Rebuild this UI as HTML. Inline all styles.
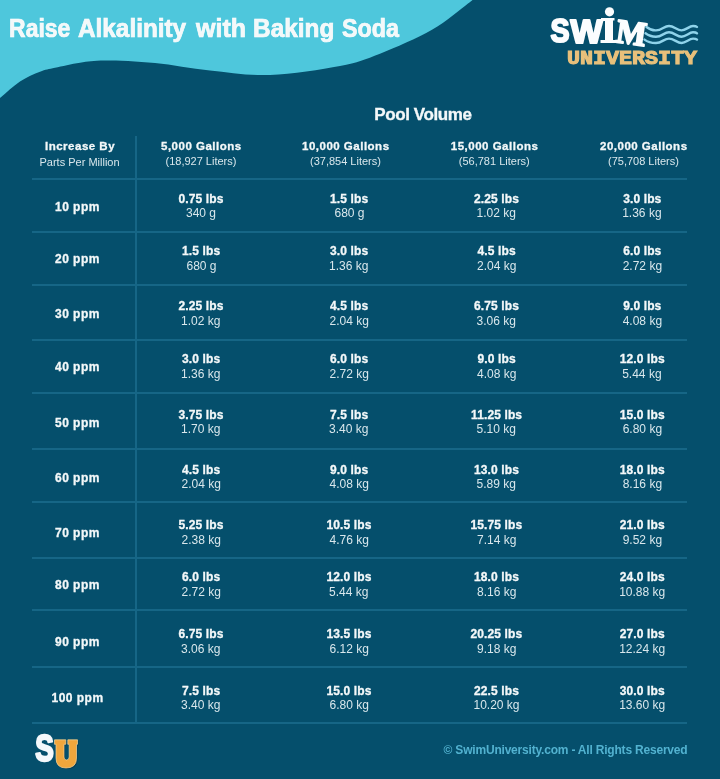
<!DOCTYPE html>
<html><head><meta charset="utf-8">
<style>
html,body{margin:0;padding:0;}
body{width:720px;height:779px;overflow:hidden;position:relative;background:#054f6c;font-family:"Liberation Sans",sans-serif;}
.a{position:absolute;white-space:nowrap;line-height:1;}
.hl{position:absolute;left:32px;width:655px;height:2px;background:#166686;}
.vl{position:absolute;left:135px;top:136px;width:2px;height:588px;background:#166686;}

.title{font-weight:bold;font-size:25px;letter-spacing:0px;color:#f4f8f9;-webkit-text-stroke:0.7px #fbfdfd;}
.pool{font-weight:bold;font-size:17px;letter-spacing:-0.4px;color:#f4f8f9;-webkit-text-stroke:0.35px #f4f8f9;}
.bh{font-weight:bold;font-size:11.5px;letter-spacing:0.5px;color:#f4f8f9;-webkit-text-stroke:0.3px #f4f8f9;}
.sh{font-weight:normal;font-size:11px;letter-spacing:0px;color:#d9e7ec;}
.bd{font-weight:bold;font-size:12px;letter-spacing:0.12px;color:#f4f8f9;-webkit-text-stroke:0.3px #f4f8f9;}
.sd{font-weight:normal;font-size:12px;letter-spacing:0px;color:#d9e7ec;}
.ppm{font-weight:bold;font-size:12px;letter-spacing:0.48px;color:#f4f8f9;-webkit-text-stroke:0.3px #f4f8f9;}
.foot{font-weight:bold;font-size:12px;letter-spacing:-0.2px;color:#52b2d0;}
#w{position:absolute;left:0;top:0;width:720px;height:779px;filter:blur(0.35px);}
</style></head><body><div id="w">
<svg class="a" style="left:0;top:0" width="720" height="130" viewBox="0 0 720 130">
<path d="M0 -5 L476 -4 C473.8 -1.4 475.3 -2.0 468 3.6 C460.7 9.2 446.7 21.5 432 29.8 C417.3 38.1 395.3 47.7 380 53.7 C364.7 59.7 358.3 62.5 340 66 C321.7 69.5 291.7 74.2 270 75 C248.3 75.8 229.2 72.5 210 70.5 C190.8 68.5 172.5 64.7 155 63 C137.5 61.3 117.5 60.5 105 60.5 C92.5 60.5 88.3 61.5 80 62.7 C71.7 63.9 61.7 66.3 55 67.8 C48.3 69.3 45.8 69.5 40 71.8 C34.2 74.1 26.7 77.1 20 81.5 C13.3 85.9 6.7 92.4 0 98 L0 120 Z" fill="#4ec7dc"/>
</svg>
<div class="hl" style="top:178px"></div>
<div class="hl" style="top:231px"></div>
<div class="hl" style="top:284px"></div>
<div class="hl" style="top:339px"></div>
<div class="hl" style="top:392px"></div>
<div class="hl" style="top:448px"></div>
<div class="hl" style="top:501px"></div>
<div class="hl" style="top:557px"></div>
<div class="hl" style="top:609px"></div>
<div class="hl" style="top:666px"></div>
<div class="hl" style="top:722px"></div>
<div class="vl"></div>
<div class="a title" style="left:8.9px;top:15.5px;transform:scaleX(0.917);transform-origin:1px 0">Raise</div>
<div class="a title" style="left:77.6px;top:15.5px;transform:scaleX(0.973);transform-origin:0px 0">Alkalinity</div>
<div class="a title" style="left:196.0px;top:15.5px;transform:scaleX(1.000);transform-origin:-1px 0">with</div>
<div class="a title" style="left:253.4px;top:15.5px;transform:scaleX(0.975);transform-origin:1px 0">Baking</div>
<div class="a title" style="left:342.2px;top:15.5px;transform:scaleX(0.932);transform-origin:0px 0">Soda</div>
<div class="a pool" style="left:374.3px;top:106.0px">Pool Volume</div>
<div class="a bh" style="left:45.0px;top:141.0px">Increase By</div>
<div class="a sh" style="left:39.5px;top:156.5px">Parts Per Million</div>
<div class="a bh" style="left:161.0px;top:141.0px">5,000 Gallons</div>
<div class="a sh" style="left:165.5px;top:155.9px">(18,927 Liters)</div>
<div class="a bh" style="left:302.0px;top:141.0px">10,000 Gallons</div>
<div class="a sh" style="left:310.0px;top:155.9px">(37,854 Liters)</div>
<div class="a bh" style="left:450.8px;top:141.0px">15,000 Gallons</div>
<div class="a sh" style="left:458.8px;top:155.9px">(56,781 Liters)</div>
<div class="a bh" style="left:600.0px;top:141.0px">20,000 Gallons</div>
<div class="a sh" style="left:608.0px;top:155.9px">(75,708 Liters)</div>
<div class="a ppm" style="left:55.0px;top:200.6px">10 ppm</div>
<div class="a bd" style="left:178.5px;top:192.5px">0.75 lbs</div>
<div class="a sd" style="left:186.0px;top:207.2px">340 g</div>
<div class="a bd" style="left:330.0px;top:192.5px">1.5 lbs</div>
<div class="a sd" style="left:334.5px;top:207.2px">680 g</div>
<div class="a bd" style="left:474.0px;top:192.5px">2.25 lbs</div>
<div class="a sd" style="left:476.5px;top:207.2px">1.02 kg</div>
<div class="a bd" style="left:623.2px;top:192.5px">3.0 lbs</div>
<div class="a sd" style="left:622.2px;top:207.2px">1.36 kg</div>
<div class="a ppm" style="left:55.0px;top:252.9px">20 ppm</div>
<div class="a bd" style="left:182.0px;top:244.8px">1.5 lbs</div>
<div class="a sd" style="left:186.5px;top:259.5px">680 g</div>
<div class="a bd" style="left:330.0px;top:244.8px">3.0 lbs</div>
<div class="a sd" style="left:329.0px;top:259.5px">1.36 kg</div>
<div class="a bd" style="left:477.5px;top:244.8px">4.5 lbs</div>
<div class="a sd" style="left:477.0px;top:259.5px">2.04 kg</div>
<div class="a bd" style="left:623.2px;top:244.8px">6.0 lbs</div>
<div class="a sd" style="left:622.7px;top:259.5px">2.72 kg</div>
<div class="a ppm" style="left:55.0px;top:307.9px">30 ppm</div>
<div class="a bd" style="left:178.5px;top:299.8px">2.25 lbs</div>
<div class="a sd" style="left:181.0px;top:314.5px">1.02 kg</div>
<div class="a bd" style="left:330.0px;top:299.8px">4.5 lbs</div>
<div class="a sd" style="left:329.5px;top:314.5px">2.04 kg</div>
<div class="a bd" style="left:474.0px;top:299.8px">6.75 lbs</div>
<div class="a sd" style="left:476.5px;top:314.5px">3.06 kg</div>
<div class="a bd" style="left:623.2px;top:299.8px">9.0 lbs</div>
<div class="a sd" style="left:622.7px;top:314.5px">4.08 kg</div>
<div class="a ppm" style="left:55.0px;top:361.0px">40 ppm</div>
<div class="a bd" style="left:182.0px;top:352.9px">3.0 lbs</div>
<div class="a sd" style="left:181.0px;top:367.6px">1.36 kg</div>
<div class="a bd" style="left:330.0px;top:352.9px">6.0 lbs</div>
<div class="a sd" style="left:329.5px;top:367.6px">2.72 kg</div>
<div class="a bd" style="left:477.5px;top:352.9px">9.0 lbs</div>
<div class="a sd" style="left:477.0px;top:367.6px">4.08 kg</div>
<div class="a bd" style="left:619.7px;top:352.9px">12.0 lbs</div>
<div class="a sd" style="left:622.2px;top:367.6px">5.44 kg</div>
<div class="a ppm" style="left:55.0px;top:416.6px">50 ppm</div>
<div class="a bd" style="left:178.5px;top:408.5px">3.75 lbs</div>
<div class="a sd" style="left:181.0px;top:423.2px">1.70 kg</div>
<div class="a bd" style="left:330.0px;top:408.5px">7.5 lbs</div>
<div class="a sd" style="left:329.0px;top:423.2px">3.40 kg</div>
<div class="a bd" style="left:471.0px;top:408.5px">11.25 lbs</div>
<div class="a sd" style="left:476.5px;top:423.2px">5.10 kg</div>
<div class="a bd" style="left:619.7px;top:408.5px">15.0 lbs</div>
<div class="a sd" style="left:622.7px;top:423.2px">6.80 kg</div>
<div class="a ppm" style="left:55.0px;top:471.8px">60 ppm</div>
<div class="a bd" style="left:182.0px;top:463.7px">4.5 lbs</div>
<div class="a sd" style="left:181.5px;top:478.4px">2.04 kg</div>
<div class="a bd" style="left:330.0px;top:463.7px">9.0 lbs</div>
<div class="a sd" style="left:329.5px;top:478.4px">4.08 kg</div>
<div class="a bd" style="left:474.0px;top:463.7px">13.0 lbs</div>
<div class="a sd" style="left:476.5px;top:478.4px">5.89 kg</div>
<div class="a bd" style="left:619.7px;top:463.7px">18.0 lbs</div>
<div class="a sd" style="left:622.7px;top:478.4px">8.16 kg</div>
<div class="a ppm" style="left:55.0px;top:527.0px">70 ppm</div>
<div class="a bd" style="left:178.5px;top:518.9px">5.25 lbs</div>
<div class="a sd" style="left:181.5px;top:533.6px">2.38 kg</div>
<div class="a bd" style="left:326.5px;top:518.9px">10.5 lbs</div>
<div class="a sd" style="left:329.5px;top:533.6px">4.76 kg</div>
<div class="a bd" style="left:470.5px;top:518.9px">15.75 lbs</div>
<div class="a sd" style="left:477.0px;top:533.6px">7.14 kg</div>
<div class="a bd" style="left:619.7px;top:518.9px">21.0 lbs</div>
<div class="a sd" style="left:622.7px;top:533.6px">9.52 kg</div>
<div class="a ppm" style="left:55.0px;top:579.1px">80 ppm</div>
<div class="a bd" style="left:182.0px;top:571.0px">6.0 lbs</div>
<div class="a sd" style="left:181.5px;top:585.7px">2.72 kg</div>
<div class="a bd" style="left:326.5px;top:571.0px">12.0 lbs</div>
<div class="a sd" style="left:329.0px;top:585.7px">5.44 kg</div>
<div class="a bd" style="left:474.0px;top:571.0px">18.0 lbs</div>
<div class="a sd" style="left:477.0px;top:585.7px">8.16 kg</div>
<div class="a bd" style="left:619.7px;top:571.0px">24.0 lbs</div>
<div class="a sd" style="left:619.2px;top:585.7px">10.88 kg</div>
<div class="a ppm" style="left:55.0px;top:636.2px">90 ppm</div>
<div class="a bd" style="left:178.5px;top:628.1px">6.75 lbs</div>
<div class="a sd" style="left:181.0px;top:642.8px">3.06 kg</div>
<div class="a bd" style="left:326.5px;top:628.1px">13.5 lbs</div>
<div class="a sd" style="left:329.5px;top:642.8px">6.12 kg</div>
<div class="a bd" style="left:470.5px;top:628.1px">20.25 lbs</div>
<div class="a sd" style="left:477.0px;top:642.8px">9.18 kg</div>
<div class="a bd" style="left:619.7px;top:628.1px">27.0 lbs</div>
<div class="a sd" style="left:619.2px;top:642.8px">12.24 kg</div>
<div class="a ppm" style="left:51.5px;top:691.8px">100 ppm</div>
<div class="a bd" style="left:182.0px;top:684.7px">7.5 lbs</div>
<div class="a sd" style="left:181.0px;top:699.4px">3.40 kg</div>
<div class="a bd" style="left:326.5px;top:684.7px">15.0 lbs</div>
<div class="a sd" style="left:329.5px;top:699.4px">6.80 kg</div>
<div class="a bd" style="left:474.0px;top:684.7px">22.5 lbs</div>
<div class="a sd" style="left:473.5px;top:699.4px">10.20 kg</div>
<div class="a bd" style="left:619.7px;top:684.7px">30.0 lbs</div>
<div class="a sd" style="left:619.2px;top:699.4px">13.60 kg</div>
<div class="a foot" style="left:443.6px;top:744.4px">© SwimUniversity.com - All Rights Reserved</div>
<svg class="a" style="left:0;top:0" width="720" height="779" viewBox="0 0 720 779">
<g fill="#fbfdfe" stroke="#fbfdfe" stroke-width="2.2" stroke-linejoin="round" font-family="Liberation Sans" font-weight="bold">
<text x="550.5" y="41.5" font-size="34" textLength="19" lengthAdjust="spacingAndGlyphs">S</text>
<text x="570.5" y="42.5" font-size="34" textLength="32" lengthAdjust="spacingAndGlyphs">W</text>
</g>
<g fill="#fbfdfe">
<circle cx="609.5" cy="11.8" r="4.6"/>
<path d="M601 18 H614.5 V20.5 H613 V40 H615.5 V43 H600.5 V40 H605 V21 H601 Z"/>
</g>
<g fill="#fbfdfe" stroke="#fbfdfe" stroke-width="2" stroke-linejoin="round" font-family="Liberation Serif" font-weight="bold">
<text x="0" y="0" font-size="34" textLength="30" lengthAdjust="spacingAndGlyphs" transform="translate(615,42) rotate(8)">M</text>
</g>
<g fill="none" stroke="#8fd3ea" stroke-width="2.4" stroke-linecap="round">
<path d="M646.5 27 C651 30.5 654 30.5 656 30.4 C662 30.4 664 26 669 26 C674 26 677 30.4 681.5 30.4 C686 30.4 689 26 693 26 C695 26 696.5 26.5 697 27"/>
<path d="M645.5 33.3 C650 36.8 654 36.7 656 36.7 C662 36.7 664 32.3 669 32.3 C674 32.3 677 36.7 681.5 36.7 C686 36.7 689 32.3 693 32.3 C695 32.3 696.5 32.8 697 33.3"/>
<path d="M644.5 39.6 C649 43.1 654 43 656 43 C662 43 664 38.6 669 38.6 C674 38.6 677 43 681.5 43 C686 43 689 38.6 693 38.6 C695 38.6 696.5 39.1 697 39.6"/>
</g>
<text x="567" y="63.5" font-family="Liberation Mono" font-weight="bold" font-size="20" fill="#e8c07b" stroke="#e8c07b" stroke-width="1.1" textLength="130" lengthAdjust="spacingAndGlyphs">UNIVERSITY</text>
<path d="M55.5 740.8 H66.8 V745.3 H65 V758 Q65 761 67.5 761 Q70 761 70.2 758 V745.3 H68.8 V740.8 H78.5 V745.3 H77.5 V759 Q77.5 769 67 769 Q57 769 57 759 V745.3 H55.5 Z" fill="#062c3c" opacity="0.55"/>
<g font-family="Liberation Sans" font-weight="bold">
<text x="35.3" y="760.6" font-size="36" fill="#f4f8fb" stroke="#f4f8fb" stroke-width="2.4" stroke-linejoin="round" textLength="18.5" lengthAdjust="spacingAndGlyphs">S</text>
</g>
<path d="M54.5 739.8 H65.8 V744.3 H64 V757 Q64 760 66.5 760 Q69 760 69.2 757 V744.3 H67.8 V739.8 H77.5 V744.3 H76.5 V758 Q76.5 768 66 768 Q56 768 56 758 V744.3 H54.5 Z" fill="#f0a63c" stroke="#f6d49a" stroke-width="0.7"/>
</svg>

</div></body></html>
